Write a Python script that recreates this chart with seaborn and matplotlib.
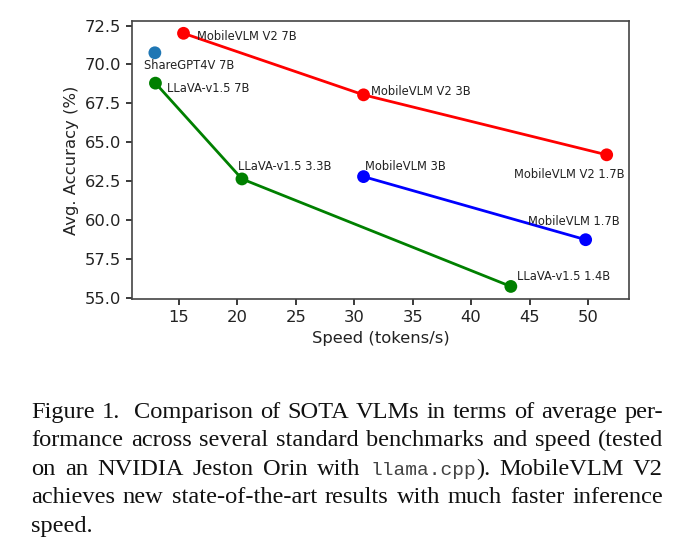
import matplotlib
matplotlib.use("Agg")
import matplotlib.pyplot as plt
import seaborn as sns
import pandas as pd

# Datos (velocidad en tokens/s, precision media en %)
v2_speed = [15.4, 30.8, 51.6]
v2_acc = [72.0, 68.05, 64.2]
v2_names = ["MobileVLM V2 7B", "MobileVLM V2 3B", "MobileVLM V2 1.7B"]

v1_speed = [30.8, 49.8]
v1_acc = [62.8, 58.75]
v1_names = ["MobileVLM 3B", "MobileVLM 1.7B"]

llava_speed = [13.0, 20.4, 43.4]
llava_acc = [68.8, 62.65, 55.75]
llava_names = ["LLaVA-v1.5 7B", "LLaVA-v1.5 3.3B", "LLaVA-v1.5 1.4B"]

share_speed = [12.95]
share_acc = [70.75]
share_names = ["ShareGPT4V 7B"]

# desplazamiento de cada etiqueta en pixeles (dx, dy)
label_offsets = {
    "MobileVLM V2 7B": (13, -3),
    "MobileVLM V2 3B": (7, 3),
    "MobileVLM V2 1.7B": (-93, -20),
    "MobileVLM 3B": (1, 10),
    "MobileVLM 1.7B": (-58, 18),
    "LLaVA-v1.5 7B": (12, -5),
    "LLaVA-v1.5 3.3B": (-4, 12),
    "LLaVA-v1.5 1.4B": (6, 10),
    "ShareGPT4V 7B": (-11, -13),
}

caption_lines = [
    "Figure 1.  Comparison of SOTA VLMs in terms of average per-",
    "formance across several standard benchmarks and speed (tested",
    "on an NVIDIA Jeston Orin with llama.cpp). MobileVLM V2",
    "achieves new state-of-the-art results with much faster inference",
    "speed.",
]

sns.set_theme(style="ticks", rc={
    "axes.edgecolor": "#444444",
    "axes.linewidth": 1.2,
    "xtick.major.size": 4.5,
    "ytick.major.size": 4.5,
    "xtick.color": "#222222",
    "ytick.color": "#222222",
})
plt.rcParams["font.family"] = ["DejaVu Sans"]

fig = plt.figure(figsize=(6.9, 5.58), dpi=100)
ax = fig.add_axes([0.1917, 0.464, 0.7203, 0.499])

series = [
    (v2_speed, v2_acc, v2_names, "red"),
    (v1_speed, v1_acc, v1_names, "blue"),
    (llava_speed, llava_acc, llava_names, "green"),
    (share_speed, share_acc, share_names, "#1f77b4"),
]
for speeds, accs, names, color in series:
    df = pd.DataFrame({"speed": speeds, "acc": accs, "name": names})
    if len(df) > 1:
        sns.lineplot(data=df, x="speed", y="acc", color=color, sort=False,
                     linewidth=2, ax=ax)
    sns.scatterplot(data=df, x="speed", y="acc", color=color, s=85,
                    edgecolor="none", ax=ax, zorder=3)
    for _, row in df.iterrows():
        dx, dy = label_offsets[row["name"]]
        ax.annotate(row["name"], (row["speed"], row["acc"]),
                    xytext=(dx, dy), textcoords="offset pixels",
                    fontsize=8.3, color="#222222", va="center", ha="left")

ax.set_xticks([15, 20, 25, 30, 35, 40, 45, 50])
ax.set_yticks([55.0, 57.5, 60.0, 62.5, 65.0, 67.5, 70.0, 72.5])
ax.set_yticklabels([f"{t:.1f}" for t in ax.get_yticks()])
ax.tick_params(labelsize=11.8)
ax.set_xlabel("Speed (tokens/s)", fontsize=11.8, color="#222222")
ax.set_ylabel("Avg. Accuracy (%)", fontsize=11.8, color="#222222")

# Pie de figura justificado, palabra por palabra
serif = "Liberation Serif"
mono = "Liberation Mono"
cap_size = 17.6
mono_size = 14
left_px, right_px = 31, 663
fig.canvas.draw()
renderer = fig.canvas.get_renderer()
W, H = fig.get_size_inches() * fig.dpi


def pieces(word):
    if word.startswith("llama.cpp"):
        return [("llama.cpp", mono), (word[len("llama.cpp"):], serif)]
    return [(word, serif)]


def size_of(fam):
    return mono_size if fam == mono else cap_size


def width(txt, fam):
    t = fig.text(0, 0, txt, fontsize=size_of(fam), family=fam)
    w = t.get_window_extent(renderer).width
    t.remove()
    return w


space_w = width("a a", serif) - width("aa", serif)
for i, line in enumerate(caption_lines):
    y = 1 - (418 + i * 28.4) / H
    words = line.split(" ")
    widths = [sum(width(p, f) for p, f in pieces(w)) if w else 0 for w in words]
    gaps = len(words) - 1
    last = i == len(caption_lines) - 1
    if last or gaps == 0:
        gap = space_w
    else:
        gap = (right_px - left_px - sum(widths)) / gaps
    x = left_px
    for w, ww in zip(words, widths):
        xx = x
        for p, f in pieces(w):
            fig.text(xx / W, y, p, fontsize=size_of(f), family=f,
                     va="baseline",
                     color="#444444" if f == mono else "#111111")
            xx += width(p, f)
        x += ww + gap

fig.savefig("out.png", dpi=100)
